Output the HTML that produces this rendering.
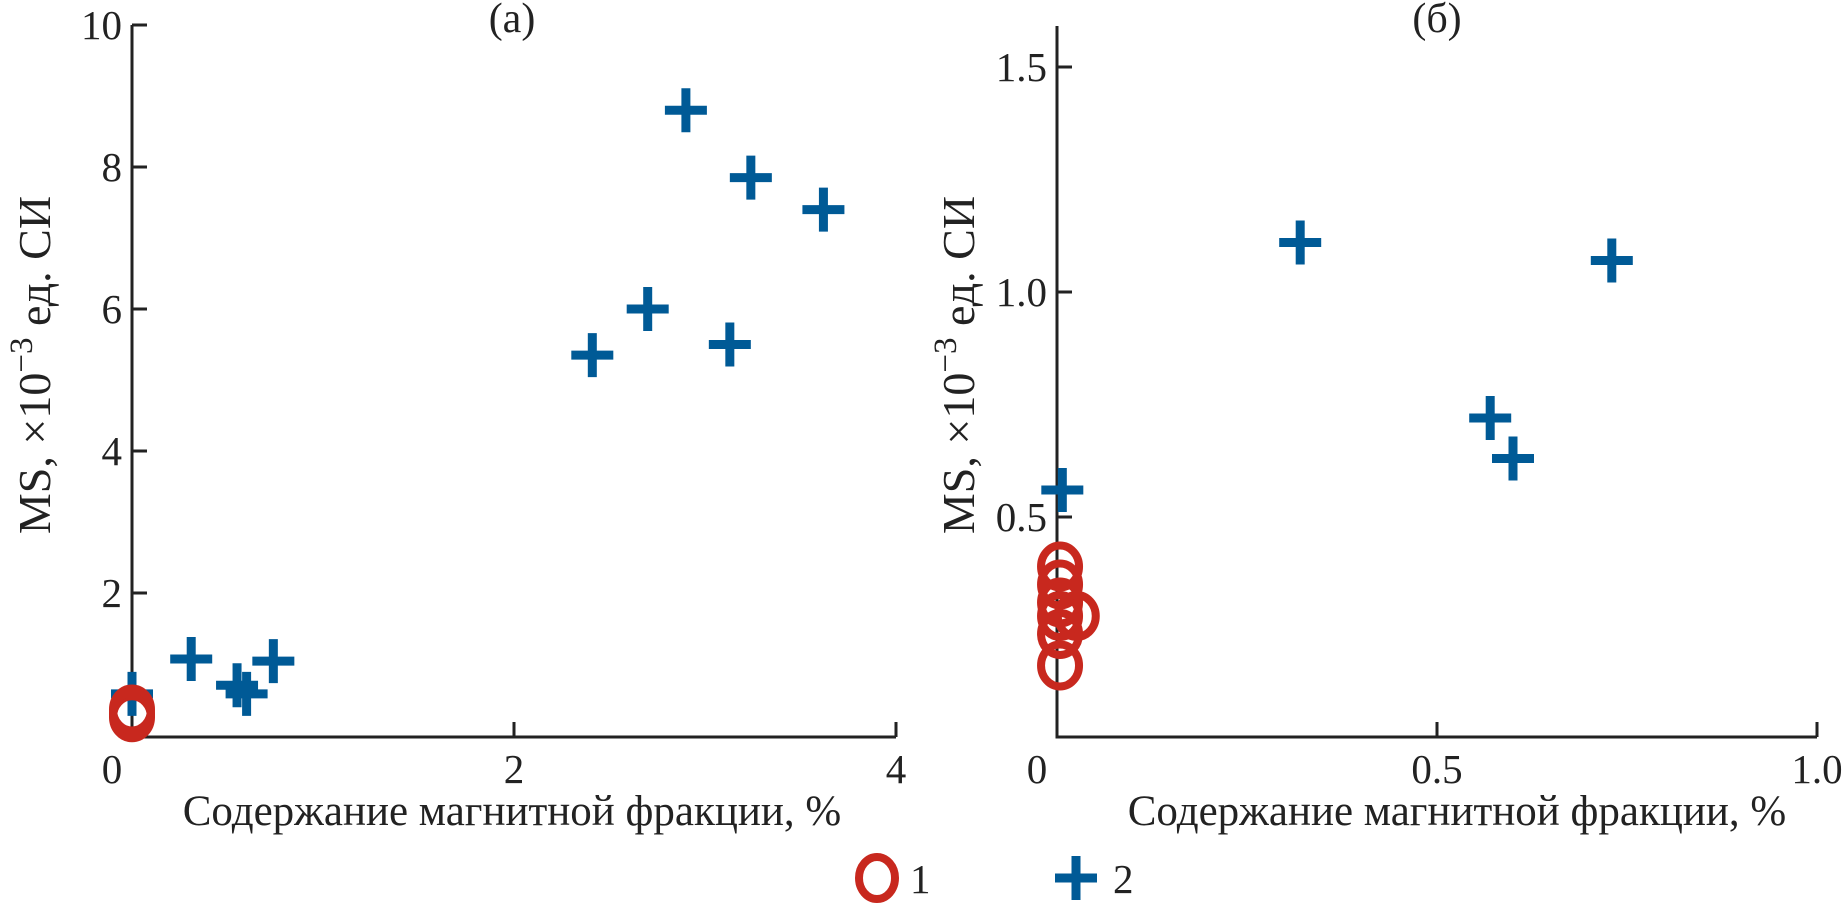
<!DOCTYPE html>
<html><head><meta charset="utf-8"><style>
html,body{margin:0;padding:0;background:#fff;}
svg{display:block;font-family:"Liberation Serif",serif;}
</style></head><body>
<svg id="chart" width="1844" height="906" viewBox="0 0 1844 906"></svg>
<script>
// Panel (a)
const aXTicks=[0,2,4];
const aYTicks=[2,4,6,8,10];
const aPlusX=[0.0,0.31,0.55,0.60,0.74,2.41,2.70,2.90,3.13,3.24,3.62];
const aPlusY=[0.58,1.07,0.70,0.58,1.04,5.35,6.0,8.8,5.5,7.85,7.4];
const aCircX=[0.0,0.0,0.0];
const aCircY=[0.25,0.30,0.36];
// Panel (b)
const bXTicks=[0,0.5,1.0];
const bXTickLabels=["0","0.5","1.0"];
const bYTicks=[0.5,1.0,1.5];
const bYTickLabels=["0.5","1.0","1.5"];
const bPlusX=[0.007,0.32,0.73,0.57,0.60];
const bPlusY=[0.56,1.11,1.07,0.72,0.63];
const bCircX=[0.004,0.004,0.004,0.004,0.026,0.004,0.004];
const bCircY=[0.39,0.35,0.31,0.28,0.28,0.24,0.17];

const NS="http://www.w3.org/2000/svg";
const svg=document.getElementById('chart');
const BLUE="#005a96",RED="#c8281e";
function mk(tag,attrs,parent){const e=document.createElementNS(NS,tag);for(const k in attrs)e.setAttribute(k,attrs[k]);(parent||svg).appendChild(e);return e;}

function panel(cfg){
  const g=mk('g',{});
  
  
  const sx=v=>cfg.x0+(v-cfg.xmin)/(cfg.xmax-cfg.xmin)*(cfg.x1-cfg.x0);
  const sy=v=>cfg.y0-(v-cfg.ymin)/(cfg.ymax-cfg.ymin)*(cfg.y0-cfg.y1);
  const ax=mk('path',{d:`M${cfg.x0} ${cfg.axTop}V${cfg.axBot}H${cfg.axRight}`,stroke:'#222','stroke-width':3,fill:'none'},g);
  
  
  cfg.xt.forEach((v,i)=>{
    const x=sx(v);
    if(v!==cfg.xmin){const t=mk('line',{x1:x,x2:x,y1:cfg.axBot,y2:cfg.axBot-15,stroke:'#222','stroke-width':3},g);
    }
    const l=mk('text',{x:v===cfg.xmin?x-20:x,y:783,'font-size':41,'text-anchor':'middle',fill:'#222'},g);
    l.textContent=cfg.xl[i];
    
    
  });
  cfg.yt.forEach((v,i)=>{
    const y=sy(v);
    const t=mk('line',{x1:cfg.x0,x2:cfg.x0+15,y1:y,y2:y,stroke:'#222','stroke-width':3},g);
    
    const l=mk('text',{x:cfg.x0-10,y:y+14,'font-size':41,'text-anchor':'end',fill:'#222'},g);
    l.textContent=cfg.yl[i];
    
    
  });
  cfg.px.forEach((v,i)=>{
    const x=sx(v),y=sy(cfg.py[i]);
    const p=mk('path',{d:`M${x-21} ${y}H${x+21}M${x} ${y-22}V${y+22}`,stroke:BLUE,'stroke-width':9,fill:'none'},g);
    
    
  });
  cfg.cx.forEach((v,i)=>{
    const c=mk('ellipse',{cx:sx(v),cy:sy(cfg.cy[i]),rx:19,ry:21,stroke:RED,'stroke-width':8,fill:'none'},g);
    
    
  });
  const tt=mk('text',{x:cfg.tx,y:32,'font-size':42,'text-anchor':'middle',fill:'#222'},g);
  tt.textContent=cfg.title;
  
  
  const xl=mk('text',{x:cfg.xlx,y:825,'font-size':43,'text-anchor':'middle',fill:'#222'},g);
  xl.textContent='Содержание магнитной фракции, %';
  
  
  const yl=mk('text',{transform:`translate(${cfg.ylx},365) rotate(-90)`,'font-size':46,'text-anchor':'middle',fill:'#222'},g);
  yl.innerHTML='MS, ×10<tspan dy="-18" font-size="33">−3</tspan><tspan dy="18"> ед. СИ</tspan>';
  
  
}
panel({name:'panel-a',x0:132,x1:896,xmin:0,xmax:4,y0:735,y1:25,ymin:0,ymax:10,axTop:25,axBot:737,axRight:896,
  xt:aXTicks,xl:aXTicks.map(String),yt:aYTicks,yl:aYTicks.map(String),
  px:aPlusX,py:aPlusY,cx:aCircX,cy:aCircY,title:'(а)',tx:512,xlx:512,ylx:50});
panel({name:'panel-b',x0:1057,x1:1817,xmin:0,xmax:1,y0:742,y1:292,ymin:0,ymax:1,axTop:26,axBot:737,axRight:1817,
  xt:bXTicks,xl:bXTickLabels,yt:bYTicks,yl:bYTickLabels,
  px:bPlusX,py:bPlusY,cx:bCircX,cy:bCircY,title:'(б)',tx:1437,xlx:1457,ylx:974});
// legend
const lg=mk('g',{});


const lc=mk('ellipse',{cx:877,cy:878,rx:18,ry:21,stroke:RED,'stroke-width':8,fill:'none'},lg);


const l1=mk('text',{x:910,y:893,'font-size':41,fill:'#222'},lg);l1.textContent='1';


const lp=mk('path',{d:'M1055 878H1097M1076 856V900',stroke:BLUE,'stroke-width':9,fill:'none'},lg);


const l2=mk('text',{x:1113,y:893,'font-size':41,fill:'#222'},lg);l2.textContent='2';


</script>
</body></html>
